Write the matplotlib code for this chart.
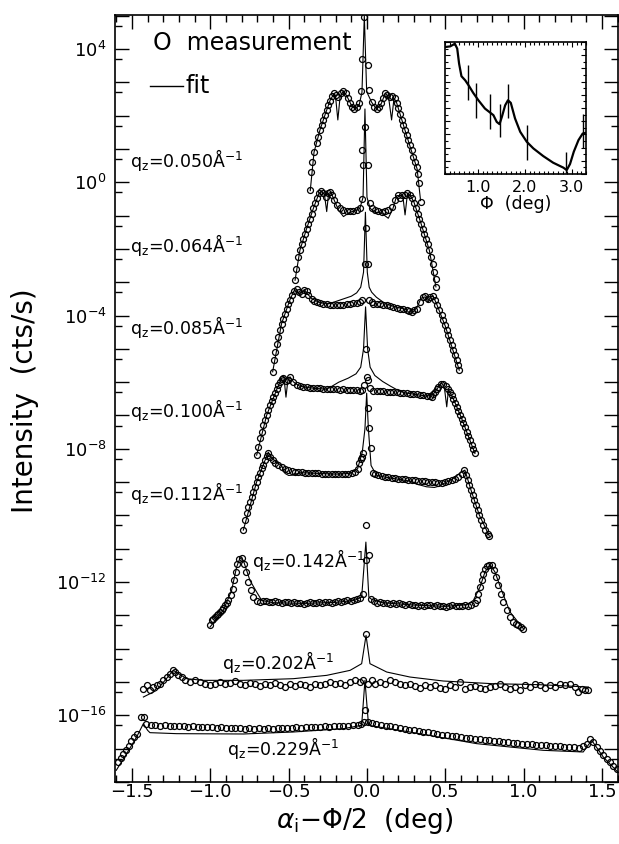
import numpy as np
import matplotlib
matplotlib.use('Agg')
import matplotlib.pyplot as plt
from matplotlib.ticker import FixedLocator, MultipleLocator, FuncFormatter, NullFormatter

plt.rcParams['font.family'] = ['DejaVu Sans']
plt.rcParams['mathtext.default'] = 'regular'

# transverse scans: (alpha_i - Phi/2 in deg, log10 intensity in cts/s)
meas_050 = [(-0.362,-0.23),(-0.356,0.30),(-0.348,0.62),(-0.338,0.90),(-0.321,1.17),(-0.311,1.37),(-0.300,1.57),
            (-0.289,1.72),(-0.279,1.87),(-0.268,2.02),(-0.257,2.17),(-0.247,2.32),(-0.236,2.45),(-0.223,2.59),
            (-0.211,2.69),(-0.198,2.62),(-0.183,2.55),(-0.168,2.67),(-0.151,2.74),(-0.136,2.67),(-0.123,2.52),
            (-0.108,2.37),(-0.094,2.25),(-0.081,2.19),(-0.066,2.25),(-0.051,2.37),(-0.038,2.75),(-0.030,3.69),
            (-0.017,4.95),(0.009,3.52),(0.015,2.77),(0.030,2.42),(0.045,2.27),(0.062,2.19),(0.077,2.25),
            (0.091,2.37),(0.104,2.52),(0.117,2.69),(0.130,2.62),(0.147,2.55),(0.162,2.59),(0.179,2.52),
            (0.189,2.37),(0.200,2.22),(0.211,2.05),(0.221,1.87),(0.232,1.72),(0.243,1.57),(0.253,1.42),
            (0.264,1.27),(0.274,1.12),(0.285,0.97),(0.296,0.77),(0.306,0.62),(0.317,0.47),(0.328,0.25),
            (0.334,-0.03),(0.342,-0.58)]
fit_050 = [(-0.362,-0.25),(-0.338,0.90),(-0.300,1.57),(-0.268,2.02),(-0.236,2.45),(-0.211,2.66),(-0.198,2.45),
           (-0.186,1.87),(-0.172,2.55),(-0.151,2.74),(-0.130,2.60),(-0.100,2.32),(-0.075,2.19),(-0.050,2.32),
           (-0.032,2.70),(-0.017,5.00),(-0.002,2.72),(0.030,2.40),(0.062,2.19),(0.092,2.37),(0.117,2.68),
           (0.138,2.55),(0.157,1.87),(0.172,2.50),(0.185,2.45),(0.211,2.05),(0.250,1.45),(0.290,0.85),
           (0.320,0.40),(0.342,-0.55)]

meas_064 = [(-0.459,-2.94),(-0.453,-2.59),(-0.442,-2.24),(-0.428,-2.04),(-0.417,-1.84),(-0.406,-1.69),
            (-0.396,-1.54),(-0.385,-1.39),(-0.374,-1.24),(-0.364,-1.09),(-0.353,-0.94),(-0.342,-0.78),
            (-0.332,-0.63),(-0.321,-0.48),(-0.306,-0.33),(-0.294,-0.25),(-0.279,-0.31),(-0.264,-0.43),
            (-0.251,-0.31),(-0.236,-0.28),(-0.221,-0.38),(-0.208,-0.53),(-0.194,-0.68),(-0.172,-0.78),
            (-0.151,-0.83),(-0.130,-0.85),(-0.108,-0.86),(-0.087,-0.85),(-0.066,-0.83),(-0.045,-0.78),
            (-0.034,-0.51),(-0.030,0.98),(-0.028,0.52),(-0.013,1.65),(0.004,0.52),(0.019,-0.63),(0.030,-0.78),
            (0.051,-0.83),(0.072,-0.86),(0.094,-0.88),(0.115,-0.86),(0.136,-0.83),(0.157,-0.73),(0.179,-0.53),
            (0.196,-0.38),(0.211,-0.48),(0.225,-0.38),(0.243,-0.38),(0.257,-0.33),(0.274,-0.38),(0.289,-0.48),
            (0.302,-0.63),(0.313,-0.78),(0.323,-0.94),(0.334,-1.09),(0.345,-1.24),(0.355,-1.39),(0.366,-1.54),
            (0.377,-1.69),(0.387,-1.84),(0.398,-2.04),(0.408,-2.24),(0.419,-2.44),(0.430,-2.69),(0.438,-2.89),
            (0.440,-3.14)]
fit_064 = [(-0.459,-2.94),(-0.428,-2.04),(-0.385,-1.39),(-0.342,-0.78),(-0.306,-0.33),(-0.290,-0.27),
           (-0.272,-0.35),(-0.257,-0.88),(-0.245,-0.33),(-0.230,-0.30),(-0.208,-0.55),(-0.180,-0.85),
           (-0.150,-1.03),(-0.110,-0.90),(-0.070,-0.85),(-0.045,-0.78),(-0.025,-0.45),(-0.013,2.20),
           (0.000,-0.45),(0.020,-0.78),(0.050,-0.90),(0.090,-0.92),(0.136,-1.08),(0.165,-0.80),(0.190,-0.40),
           (0.210,-0.40),(0.228,-0.38),(0.243,-0.98),(0.258,-0.35),(0.275,-0.38),(0.300,-0.60),(0.345,-1.24),
           (0.398,-2.04),(0.440,-3.14)]

meas_085 = [(-0.602,-5.69),(-0.593,-5.34),(-0.587,-5.09),(-0.576,-4.84),(-0.566,-4.64),(-0.555,-4.44),
            (-0.545,-4.24),(-0.534,-4.09),(-0.523,-3.94),(-0.513,-3.79),(-0.502,-3.64),(-0.491,-3.52),
            (-0.481,-3.39),(-0.466,-3.26),(-0.449,-3.19),(-0.434,-3.29),(-0.417,-3.34),(-0.400,-3.22),
            (-0.385,-3.26),(-0.374,-3.39),(-0.353,-3.49),(-0.337,-3.55),(-0.321,-3.59),(-0.300,-3.62),
            (-0.279,-3.64),(-0.258,-3.65),(-0.236,-3.67),(-0.215,-3.68),(-0.194,-3.69),(-0.172,-3.68),
            (-0.151,-3.67),(-0.130,-3.66),(-0.108,-3.64),(-0.087,-3.63),(-0.066,-3.62),(-0.045,-3.60),
            (-0.030,-3.54),(-0.012,-2.44),(-0.009,-1.37),(0.008,-2.44),(0.012,-3.54),(0.030,-3.58),
            (0.040,-3.64),(0.062,-3.65),(0.083,-3.66),(0.104,-3.67),(0.126,-3.69),(0.147,-3.71),(0.168,-3.74),
            (0.190,-3.76),(0.211,-3.79),(0.232,-3.81),(0.253,-3.84),(0.270,-3.87),(0.285,-3.89),(0.302,-3.84),
            (0.317,-3.79),(0.338,-3.59),(0.355,-3.44),(0.370,-3.42),(0.387,-3.49),(0.402,-3.44),(0.419,-3.42),
            (0.434,-3.54),(0.449,-3.69),(0.462,-3.84),(0.477,-3.99),(0.487,-4.14),(0.498,-4.29),(0.508,-4.44),
            (0.519,-4.59),(0.530,-4.74),(0.540,-4.89),(0.551,-5.04),(0.562,-5.19),(0.572,-5.34),(0.583,-5.49),
            (0.589,-5.64)]
fit_085 = [(-0.602,-5.69),(-0.545,-4.24),(-0.491,-3.52),(-0.466,-3.26),(-0.449,-3.22),(-0.430,-3.40),
           (-0.417,-3.30),(-0.400,-3.22),(-0.380,-3.35),(-0.353,-3.49),(-0.300,-3.62),(-0.240,-3.64),
           (-0.200,-3.58),(-0.150,-3.50),(-0.100,-3.42),(-0.066,-3.32),(-0.040,-3.15),(-0.022,-2.70),
           (-0.010,-0.90),(0.002,-2.70),(0.014,-3.15),(0.030,-3.30),(0.060,-3.45),(0.104,-3.60),(0.150,-3.70),
           (0.200,-3.76),(0.250,-3.82),(0.274,-3.94),(0.295,-3.89),(0.320,-3.75),(0.345,-3.48),(0.370,-3.44),
           (0.390,-3.60),(0.405,-3.44),(0.420,-3.42),(0.440,-3.60),(0.500,-4.32),(0.589,-5.64)]

meas_100 = [(-0.704,-8.19),(-0.693,-7.94),(-0.683,-7.69),(-0.672,-7.49),(-0.662,-7.29),(-0.651,-7.14),
            (-0.640,-6.99),(-0.630,-6.84),(-0.619,-6.69),(-0.608,-6.57),(-0.598,-6.44),(-0.587,-6.34),
            (-0.576,-6.22),(-0.566,-6.09),(-0.555,-5.99),(-0.545,-5.89),(-0.534,-5.86),(-0.517,-5.95),
            (-0.502,-5.94),(-0.491,-5.84),(-0.470,-5.99),(-0.449,-6.09),(-0.428,-6.12),(-0.406,-6.14),
            (-0.385,-6.15),(-0.364,-6.16),(-0.342,-6.17),(-0.321,-6.19),(-0.300,-6.19),(-0.279,-6.20),
            (-0.257,-6.21),(-0.236,-6.22),(-0.215,-6.22),(-0.194,-6.22),(-0.172,-6.23),(-0.151,-6.22),
            (-0.130,-6.23),(-0.108,-6.24),(-0.087,-6.24),(-0.066,-6.25),(-0.045,-6.26),(-0.034,-6.24),
            (-0.019,-6.09),(-0.009,-5.01),(-0.002,-5.84),(0.009,-5.94),(0.020,-6.18),(0.040,-6.26),
            (0.062,-6.27),(0.083,-6.28),(0.104,-6.28),(0.126,-6.29),(0.147,-6.30),(0.168,-6.30),(0.190,-6.31),
            (0.211,-6.32),(0.232,-6.33),(0.253,-6.34),(0.274,-6.35),(0.296,-6.36),(0.317,-6.37),(0.338,-6.38),
            (0.360,-6.40),(0.381,-6.42),(0.400,-6.43),(0.413,-6.44),(0.424,-6.36),(0.434,-6.29),(0.445,-6.20),
            (0.455,-6.14),(0.470,-6.04),(0.487,-6.06),(0.504,-6.12),(0.519,-6.20),(0.530,-6.30),(0.540,-6.40),
            (0.551,-6.50),(0.562,-6.62),(0.572,-6.74),(0.583,-6.86),(0.593,-6.98),(0.604,-7.10),(0.615,-7.23),
            (0.625,-7.36),(0.636,-7.49),(0.647,-7.62),(0.657,-7.75),(0.668,-7.88),(0.679,-8.00),(0.689,-8.14)]
fit_100 = [(-0.704,-8.19),(-0.640,-6.99),(-0.576,-6.22),(-0.545,-5.89),(-0.530,-5.85),(-0.517,-6.45),
           (-0.505,-5.95),(-0.491,-5.84),(-0.470,-5.99),(-0.430,-6.12),(-0.380,-6.16),(-0.320,-6.19),
           (-0.260,-6.21),(-0.230,-6.14),(-0.180,-6.00),(-0.120,-5.88),(-0.070,-5.75),(-0.040,-5.55),
           (-0.022,-5.00),(-0.009,-3.74),(0.004,-5.00),(0.020,-5.55),(0.050,-5.80),(0.100,-5.98),(0.150,-6.12),
           (0.200,-6.25),(0.240,-6.32),(0.300,-6.36),(0.380,-6.42),(0.420,-6.38),(0.460,-6.12),(0.478,-6.02),
           (0.495,-6.20),(0.509,-6.74),(0.520,-6.22),(0.551,-6.50),(0.600,-7.04),(0.689,-8.14)]

meas_112 = [(-0.789,-10.44),(-0.779,-10.14),(-0.768,-9.94),(-0.757,-9.74),(-0.747,-9.59),(-0.736,-9.44),
            (-0.725,-9.29),(-0.715,-9.14),(-0.704,-8.99),(-0.693,-8.84),(-0.683,-8.72),(-0.672,-8.59),
            (-0.662,-8.49),(-0.651,-8.34),(-0.640,-8.22),(-0.630,-8.12),(-0.619,-8.24),(-0.602,-8.34),
            (-0.587,-8.42),(-0.566,-8.50),(-0.545,-8.56),(-0.524,-8.62),(-0.503,-8.65),(-0.481,-8.67),
            (-0.460,-8.69),(-0.438,-8.70),(-0.417,-8.71),(-0.396,-8.72),(-0.374,-8.72),(-0.353,-8.73),
            (-0.332,-8.74),(-0.310,-8.74),(-0.289,-8.75),(-0.268,-8.75),(-0.246,-8.76),(-0.225,-8.76),
            (-0.204,-8.76),(-0.183,-8.76),(-0.161,-8.76),(-0.140,-8.76),(-0.119,-8.75),(-0.098,-8.74),
            (-0.077,-8.70),(-0.060,-8.60),(-0.049,-8.44),(-0.040,-8.30),(-0.034,-8.24),(-0.023,-8.12),
            (0.008,-6.79),(0.015,-7.39),(0.024,-7.99),(0.036,-8.72),(0.051,-8.77),(0.072,-8.79),(0.093,-8.82),
            (0.115,-8.84),(0.136,-8.86),(0.157,-8.87),(0.179,-8.89),(0.200,-8.90),(0.221,-8.91),(0.243,-8.92),
            (0.264,-8.93),(0.285,-8.94),(0.306,-8.95),(0.328,-8.96),(0.349,-8.97),(0.370,-8.98),(0.391,-8.99),
            (0.413,-9.00),(0.434,-9.01),(0.455,-9.02),(0.476,-9.02),(0.498,-9.00),(0.519,-8.98),(0.540,-8.95),
            (0.561,-8.90),(0.583,-8.84),(0.604,-8.75),(0.619,-8.64),(0.632,-8.79),(0.642,-8.94),(0.653,-9.09),
            (0.664,-9.24),(0.674,-9.39),(0.685,-9.54),(0.696,-9.69),(0.706,-9.84),(0.717,-9.99),(0.727,-10.14),
            (0.738,-10.29),(0.753,-10.44),(0.770,-10.55),(0.781,-10.62)]
fit_112 = [(-0.789,-10.44),(-0.704,-8.99),(-0.640,-8.22),(-0.630,-8.10),(-0.610,-8.25),(-0.580,-8.40),
           (-0.545,-8.50),(-0.523,-8.74),(-0.500,-8.80),(-0.470,-8.79),(-0.430,-8.72),(-0.400,-8.72),
           (-0.300,-8.74),(-0.200,-8.76),(-0.110,-8.74),(-0.060,-8.60),(-0.030,-8.10),(-0.013,-7.40),
           (-0.002,-6.33),(0.009,-7.40),(0.026,-8.50),(0.060,-8.79),(0.104,-8.84),(0.180,-8.90),(0.274,-8.97),
           (0.317,-9.06),(0.380,-9.14),(0.430,-9.16),(0.460,-9.12),(0.487,-9.05),(0.540,-8.92),(0.604,-8.69),
           (0.625,-8.64),(0.664,-9.24),(0.717,-9.99),(0.781,-10.62)]

meas_142 = [(-1.002,-13.30),(-0.991,-13.15),(-0.980,-13.10),(-0.970,-13.05),(-0.959,-13.00),(-0.949,-12.95),
            (-0.938,-12.90),(-0.927,-12.85),(-0.917,-12.78),(-0.906,-12.70),(-0.895,-12.62),(-0.885,-12.55),
            (-0.870,-12.40),(-0.857,-12.20),(-0.849,-11.95),(-0.838,-11.70),(-0.827,-11.45),(-0.815,-11.30),
            (-0.800,-11.27),(-0.785,-11.45),(-0.772,-11.70),(-0.757,-12.00),(-0.742,-12.25),(-0.725,-12.45),
            (-0.704,-12.57),(-0.685,-12.60),(-0.665,-12.58),(-0.645,-12.56),(-0.625,-12.59),(-0.605,-12.61),
            (-0.585,-12.58),(-0.565,-12.60),(-0.545,-12.62),(-0.525,-12.59),(-0.505,-12.61),(-0.485,-12.63),
            (-0.465,-12.60),(-0.445,-12.64),(-0.425,-12.62),(-0.405,-12.65),(-0.385,-12.63),(-0.365,-12.61),
            (-0.345,-12.64),(-0.325,-12.62),(-0.305,-12.60),(-0.285,-12.63),(-0.265,-12.61),(-0.245,-12.59),
            (-0.225,-12.62),(-0.205,-12.60),(-0.185,-12.57),(-0.165,-12.60),(-0.145,-12.58),(-0.125,-12.55),
            (-0.105,-12.57),(-0.085,-12.54),(-0.065,-12.52),(-0.045,-12.48),(-0.028,-12.35),(-0.009,-11.35),
            (-0.005,-10.29),(0.015,-11.20),(0.025,-12.50),(0.045,-12.58),(0.065,-12.62),(0.085,-12.60),
            (0.105,-12.64),(0.125,-12.62),(0.145,-12.65),(0.165,-12.63),(0.185,-12.66),(0.205,-12.64),
            (0.225,-12.67),(0.245,-12.69),(0.265,-12.66),(0.285,-12.70),(0.305,-12.68),(0.325,-12.71),
            (0.345,-12.69),(0.365,-12.72),(0.385,-12.70),(0.405,-12.68),(0.425,-12.72),(0.445,-12.70),
            (0.465,-12.73),(0.485,-12.71),(0.505,-12.74),(0.525,-12.72),(0.545,-12.70),(0.565,-12.73),
            (0.585,-12.71),(0.605,-12.72),(0.625,-12.70),(0.645,-12.71),(0.665,-12.68),(0.689,-12.62),
            (0.700,-12.55),(0.711,-12.35),(0.721,-12.15),(0.732,-11.95),(0.742,-11.75),(0.753,-11.60),
            (0.764,-11.52),(0.779,-11.50),(0.796,-11.50),(0.810,-11.65),(0.823,-11.85),(0.838,-12.10),
            (0.853,-12.35),(0.870,-12.60),(0.891,-12.85),(0.913,-13.05),(0.934,-13.20),(0.950,-13.25),
            (0.966,-13.30),(0.982,-13.35),(0.998,-13.40)]
fit_142 = [(-1.002,-13.35),(-0.917,-12.85),(-0.864,-12.25),(-0.832,-11.55),(-0.810,-11.27),(-0.789,-11.35),
           (-0.747,-11.95),(-0.704,-12.30),(-0.672,-12.55),(-0.600,-12.62),(-0.400,-12.64),(-0.200,-12.61),
           (-0.080,-12.55),(-0.034,-12.45),(-0.007,-10.80),(0.012,-12.45),(0.030,-12.52),(0.100,-12.62),
           (0.300,-12.69),(0.500,-12.73),(0.636,-12.68),(0.679,-12.55),(0.721,-12.15),(0.753,-11.70),
           (0.785,-11.47),(0.817,-11.70),(0.859,-12.25),(0.913,-12.90),(0.998,-13.40)]

meas_202 = [(-1.427,-15.20),(-1.406,-15.10),(-1.385,-15.25),(-1.364,-15.15),(-1.342,-15.10),(-1.321,-15.05),
            (-1.300,-14.95),(-1.278,-14.85),(-1.257,-14.75),(-1.240,-14.63),(-1.225,-14.70),(-1.204,-14.80),
            (-1.183,-14.85),(-1.161,-14.93),(-1.130,-15.00),(-1.098,-14.95),(-1.066,-15.00),(-1.034,-15.05),
            (-1.002,-15.10),(-0.970,-15.05),(-0.938,-15.00),(-0.906,-15.07),(-0.874,-15.03),(-0.842,-14.97),
            (-0.810,-15.05),(-0.779,-15.10),(-0.747,-15.03),(-0.715,-15.07),(-0.683,-15.13),(-0.651,-15.05),
            (-0.619,-15.10),(-0.587,-15.03),(-0.555,-15.10),(-0.523,-15.15),(-0.491,-15.07),(-0.460,-15.13),
            (-0.428,-15.05),(-0.396,-15.10),(-0.364,-15.15),(-0.332,-15.07),(-0.300,-15.10),(-0.268,-15.05),
            (-0.236,-15.00),(-0.204,-15.07),(-0.172,-15.03),(-0.140,-15.10),(-0.108,-15.00),(-0.077,-14.95),
            (-0.045,-15.00),(-0.023,-14.93),(-0.006,-13.57),(0.009,-15.05),(0.030,-14.93),(0.051,-15.07),
            (0.083,-15.00),(0.115,-15.05),(0.147,-14.95),(0.179,-15.00),(0.211,-15.05),(0.243,-15.10),
            (0.274,-15.05),(0.306,-15.13),(0.338,-15.17),(0.370,-15.10),(0.402,-15.15),(0.434,-15.10),
            (0.466,-15.17),(0.498,-15.20),(0.530,-15.10),(0.562,-15.15),(0.593,-15.00),(0.625,-15.20),
            (0.657,-15.15),(0.689,-15.13),(0.721,-15.17),(0.753,-15.20),(0.785,-15.15),(0.817,-15.13),
            (0.849,-15.05),(0.881,-15.15),(0.913,-15.20),(0.945,-15.15),(0.976,-15.25),(1.008,-15.10),
            (1.040,-15.15),(1.072,-15.05),(1.104,-15.10),(1.136,-15.17),(1.168,-15.10),(1.200,-15.15),
            (1.232,-15.05),(1.264,-15.10),(1.296,-15.05),(1.327,-15.15),(1.349,-15.30),(1.370,-15.20),
            (1.391,-15.25),(1.413,-15.25)]
fit_202 = [(-1.427,-15.45),(-1.342,-15.25),(-1.236,-14.65),(-1.151,-14.90),(-1.045,-14.95),(-0.789,-14.95),
           (-0.470,-14.90),(-0.257,-14.80),(-0.108,-14.65),(-0.034,-14.45),(-0.006,-13.60),(0.019,-14.45),
           (0.126,-14.70),(0.274,-14.85),(0.487,-14.97),(0.800,-15.05),(1.100,-15.08),(1.413,-15.15)]

meas_229 = [(-1.589,-17.40),(-1.572,-17.28),(-1.555,-17.15),(-1.538,-17.05),(-1.521,-16.93),(-1.504,-16.78),
            (-1.487,-16.66),(-1.470,-16.55),(-1.441,-16.05),(-1.424,-16.05),(-1.410,-16.27),(-1.380,-16.29),
            (-1.350,-16.28),(-1.320,-16.31),(-1.290,-16.30),(-1.260,-16.32),(-1.230,-16.31),(-1.200,-16.33),
            (-1.170,-16.32),(-1.140,-16.34),(-1.110,-16.33),(-1.080,-16.35),(-1.050,-16.34),(-1.020,-16.36),
            (-0.990,-16.35),(-0.960,-16.37),(-0.930,-16.36),(-0.900,-16.38),(-0.870,-16.37),(-0.840,-16.39),
            (-0.810,-16.38),(-0.780,-16.40),(-0.750,-16.39),(-0.720,-16.40),(-0.690,-16.39),(-0.660,-16.41),
            (-0.630,-16.39),(-0.600,-16.40),(-0.570,-16.38),(-0.540,-16.39),(-0.510,-16.37),(-0.480,-16.38),
            (-0.450,-16.36),(-0.420,-16.37),(-0.390,-16.35),(-0.360,-16.36),(-0.330,-16.34),(-0.300,-16.35),
            (-0.270,-16.33),(-0.240,-16.34),(-0.210,-16.32),(-0.180,-16.33),(-0.150,-16.31),(-0.120,-16.31),
            (-0.090,-16.30),(-0.060,-16.29),(-0.035,-16.27),(-0.020,-16.20),(-0.010,-15.83),(0.009,-16.20),
            (0.030,-16.24),(0.060,-16.27),(0.090,-16.29),(0.120,-16.32),(0.150,-16.33),(0.180,-16.36),
            (0.210,-16.38),(0.240,-16.40),(0.270,-16.43),(0.300,-16.45),(0.330,-16.47),(0.360,-16.50),
            (0.390,-16.51),(0.420,-16.54),(0.450,-16.55),(0.480,-16.58),(0.510,-16.59),(0.540,-16.62),
            (0.570,-16.63),(0.600,-16.66),(0.630,-16.67),(0.660,-16.69),(0.690,-16.70),(0.720,-16.72),
            (0.750,-16.73),(0.780,-16.75),(0.810,-16.76),(0.840,-16.78),(0.870,-16.79),(0.900,-16.81),
            (0.930,-16.82),(0.960,-16.84),(0.990,-16.85),(1.020,-16.86),(1.050,-16.87),(1.080,-16.88),
            (1.110,-16.89),(1.140,-16.90),(1.170,-16.91),(1.200,-16.92),(1.230,-16.93),(1.260,-16.94),
            (1.290,-16.95),(1.320,-16.96),(1.350,-16.97),(1.380,-16.93),(1.402,-16.85),(1.423,-16.70),
            (1.444,-16.80),(1.466,-16.95),(1.487,-17.06),(1.508,-17.18),(1.529,-17.30),(1.550,-17.40),
            (1.572,-17.52),(1.593,-17.62)]
fit_229 = [(-1.600,-17.65),(-1.534,-17.15),(-1.470,-16.65),(-1.427,-16.25),(-1.400,-16.45),(-1.385,-16.52),
           (-1.215,-16.55),(-0.789,-16.56),(-0.470,-16.50),(-0.151,-16.40),(-0.034,-16.30),(-0.013,-14.95),
           (0.010,-16.30),(0.274,-16.50),(0.700,-16.85),(1.125,-17.05),(1.380,-17.10),(1.434,-16.75),
           (1.508,-17.25),(1.600,-17.70)]

scans = [(meas_050, fit_050), (meas_064, fit_064), (meas_085, fit_085), (meas_100, fit_100),
         (meas_112, fit_112), (meas_142, fit_142), (meas_202, fit_202), (meas_229, fit_229)]
qz_values = ['0.050', '0.064', '0.085', '0.100', '0.112', '0.142', '0.202', '0.229']
qz_label_pos = [(-1.512, 0.67), (-1.512, -1.89), (-1.512, -4.35), (-1.512, -6.84), (-1.512, -9.33),
                (-0.734, -11.35), (-0.925, -14.41), (-0.893, -16.99)]

# inset: Phi dependence (arb. units) with error bars
inset_phi = [0.30, 0.41, 0.51, 0.56, 0.60, 0.65, 0.73, 0.80, 0.90, 1.01, 1.15, 1.24, 1.33, 1.40, 1.46, 1.51,
             1.58, 1.64, 1.70, 1.79, 1.90, 2.04, 2.18, 2.39, 2.60, 2.82, 2.89, 2.96, 3.04, 3.14, 3.23, 3.30]
inset_val = [0.962, 0.967, 0.987, 0.950, 0.836, 0.741, 0.710, 0.673, 0.615, 0.559, 0.496, 0.471, 0.446,
             0.395, 0.378, 0.433, 0.521, 0.559, 0.539, 0.421, 0.320, 0.244, 0.194, 0.136, 0.086, 0.048,
             0.030, 0.076, 0.169, 0.257, 0.307, 0.312]
err_phi = [0.78, 0.97, 1.26, 1.46, 1.63, 2.04, 2.87, 3.23]
err_lo = [0.559, 0.428, 0.338, 0.277, 0.421, 0.106, 0.005, 0.194]
err_hi = [0.824, 0.690, 0.605, 0.534, 0.685, 0.370, 0.169, 0.458]

fig = plt.figure(figsize=(6.19, 8.44), dpi=100)
ax = fig.add_axes([0.1858, 0.0735, 0.8126, 0.9087])
ax.set_yscale('log')

for meas, fit in scans:
    fx, fy = np.array(fit).T
    ax.plot(fx, 10.0 ** fy, color='black', lw=0.8)
    mx, my = np.array(meas).T
    ax.plot(mx, 10.0 ** my, 'o', ls='none', mfc='none', mec='black', ms=4.3, mew=0.9)

for q, (tx, ty) in zip(qz_values, qz_label_pos):
    ax.text(tx, 10.0 ** ty, r'q$_z$=' + q + r'Å$^{-1}$', fontsize=12.5, va='center', ha='left')

ax.set_xlim(-1.608, 1.602)
ax.set_ylim(1e-18, 10 ** 5.02)

ax.xaxis.set_major_locator(MultipleLocator(0.5))
ax.xaxis.set_minor_locator(MultipleLocator(0.1))
ax.xaxis.set_major_formatter(FuncFormatter(lambda v, p: ('%.1f' % v).replace('-', '\u2212')))

ax.yaxis.set_major_locator(FixedLocator(10.0 ** np.arange(-18, 6)))
ax.yaxis.set_minor_locator(FixedLocator(5 * 10.0 ** np.arange(-19, 5)))


def decade_label(v, pos):
    e = int(round(np.log10(v)))
    return r'$10^{%d}$' % e if e % 4 == 0 else ''


ax.yaxis.set_major_formatter(FuncFormatter(decade_label))
ax.yaxis.set_minor_formatter(NullFormatter())
ax.tick_params(which='both', direction='in', top=True, right=True, width=1.0, labelsize=13)
ax.tick_params(which='major', length=10)
ax.tick_params(which='minor', length=5)
ax.tick_params(axis='y', pad=6)
ax.tick_params(axis='x', pad=1)
for s in ax.spines.values():
    s.set_linewidth(1.2)

# legend drawn by hand
ax.text(0.0755, 0.9635, 'O  measurement', transform=ax.transAxes, fontsize=17, va='center', ha='left')
ax.plot([0.0696, 0.1352], [0.9075, 0.9075], transform=ax.transAxes, color='black', lw=1.0)
ax.text(0.141, 0.9075, 'fit', transform=ax.transAxes, fontsize=17, va='center', ha='left')

fig.text(0.040, 1 - 401 / 844, 'Intensity  (cts/s)', rotation=90, fontsize=20, ha='center', va='center')
fig.text(365 / 619, 1 - 821 / 844, r'$\mathit{\alpha}_{\rm i}$' + '\u2212\u03a6/2  (deg)', fontsize=19,
         ha='center', va='center')

ins = fig.add_axes([0.7189, 0.7938, 0.2278, 0.1564])
ins.plot(inset_phi, inset_val, color='black', lw=1.6)
ins.vlines(err_phi, err_lo, err_hi, color='black', lw=1.0)
ins.set_xlim(0.3, 3.3)
ins.set_ylim(0, 1)
ins.xaxis.set_major_locator(FixedLocator([1.0, 2.0, 3.0]))
ins.xaxis.set_major_formatter(FuncFormatter(lambda v, p: '%.1f' % v))
ins.xaxis.set_minor_locator(MultipleLocator(0.1))
ins.yaxis.set_major_locator(MultipleLocator(0.1))
ins.yaxis.set_minor_locator(MultipleLocator(0.05))
ins.yaxis.set_major_formatter(NullFormatter())
ins.tick_params(which='both', direction='in', top=True, right=True, width=0.8, labelsize=11.5, pad=4)
ins.tick_params(which='major', length=3.5)
ins.tick_params(which='minor', length=2)
ins.set_xlabel('\u03a6  (deg)', fontsize=12.5, labelpad=0)
for s in ins.spines.values():
    s.set_linewidth(1.2)

fig.savefig('out.png', dpi=100)
